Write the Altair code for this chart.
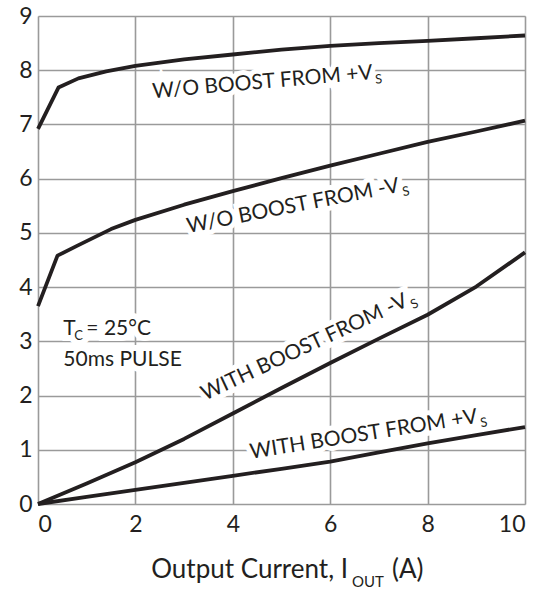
import altair as alt
import pandas as pd

# Dropout voltage vs output current, four operating modes
x_wo_pos = [0, 0.42, 0.83, 1.4, 2, 3, 4, 5, 6, 7, 8, 9, 10]
y_wo_pos = [6.92, 7.68, 7.85, 7.98, 8.08, 8.2, 8.29, 8.38, 8.45, 8.5, 8.54, 8.59, 8.64]

x_wo_neg = [0, 0.4, 0.8, 1.5, 2, 3, 4, 5, 6, 7, 8, 9, 10]
y_wo_neg = [3.65, 4.58, 4.76, 5.07, 5.24, 5.52, 5.77, 6.01, 6.24, 6.46, 6.68, 6.87, 7.07]

x_w_neg = [0, 1, 2, 3, 4, 5, 6, 7, 8, 9, 10]
y_w_neg = [0, 0.38, 0.77, 1.2, 1.67, 2.14, 2.6, 3.05, 3.49, 4.01, 4.64]

x_w_pos = [0, 1, 2, 3, 4, 5, 6, 7, 8, 9, 10]
y_w_pos = [0, 0.13, 0.26, 0.39, 0.52, 0.65, 0.78, 0.95, 1.12, 1.27, 1.42]

x_ticks = [0, 2, 4, 6, 8, 10]
y_ticks = [0, 1, 2, 3, 4, 5, 6, 7, 8, 9]

series_names = ["wo_pos", "wo_neg", "w_neg", "w_pos"]
series_x = [x_wo_pos, x_wo_neg, x_w_neg, x_w_pos]
series_y = [y_wo_pos, y_wo_neg, y_w_neg, y_w_pos]

rows = []
for name, xs_, ys_ in zip(series_names, series_x, series_y):
    for i, (xv, yv) in enumerate(zip(xs_, ys_)):
        rows.append({"series": name, "order": i, "I": xv, "V": yv})
curves_df = pd.DataFrame(rows)

FONT = "Lato"
INK = "#231f20"
LABEL_SIZE = 21

# Curve labels: text ends at the anchor (right-aligned), subscript "S" follows it
label_text = ["W/O BOOST FROM +V", "W/O BOOST FROM -V", "WITH BOOST FROM -V", "WITH BOOST FROM +V"]
label_x = [6.88, 7.44, 7.62, 9.04]
label_y = [7.84, 5.76, 3.66, 1.5]
label_angle = [355, 349, 335, 351]

xs = alt.Scale(domain=[0, 10], nice=False, zero=False)
ys = alt.Scale(domain=[0, 9], nice=False, zero=False)

curves = alt.Chart(curves_df).mark_line(color=INK, strokeWidth=3.8, strokeJoin="round").encode(
    x=alt.X("I:Q", scale=xs,
            axis=alt.Axis(values=x_ticks, title=None, grid=True, ticks=False, domain=False,
                          format="d", labelFont=FONT, labelFontSize=23, labelColor=INK,
                          labelPadding=9, gridColor="#9a9a9a", gridWidth=1.6)),
    y=alt.Y("V:Q", scale=ys,
            axis=alt.Axis(values=y_ticks, title=None, grid=True, ticks=False, domain=False,
                          format="d", labelFont=FONT, labelFontSize=23, labelColor=INK,
                          labelPadding=6, gridColor="#9a9a9a", gridWidth=1.6)),
    detail="series:N",
    order="order:Q",
)

halo_layers = []
text_layers = []
for t, lx, ly, ang in zip(label_text, label_x, label_y, label_angle):
    d = pd.DataFrame({"I": [lx], "V": [ly], "t": [t], "s": ["S"]})
    c = alt.Chart(d)
    enc = dict(x=alt.X("I:Q", scale=xs), y=alt.Y("V:Q", scale=ys))
    halo_layers.append(c.mark_text(align="right", baseline="alphabetic", angle=ang, font=FONT,
                                   fontSize=LABEL_SIZE, fill="white", stroke="white", strokeWidth=10)
                       .encode(text="t:N", **enc))
    text_layers.append(c.mark_text(align="right", baseline="alphabetic", angle=ang, font=FONT,
                                   fontSize=LABEL_SIZE, color=INK)
                       .encode(text="t:N", **enc))
    text_layers.append(c.mark_text(align="left", baseline="alphabetic", angle=ang, font=FONT,
                                   fontSize=13, color=INK, dx=2, dy=5)
                       .encode(text="s:N", **enc))

# Test-condition note
note_df = pd.DataFrame({"I": [0.52], "V": [3.12]})
note_df2 = pd.DataFrame({"I": [0.52], "V": [2.55]})
note_enc = dict(x=alt.X("I:Q", scale=xs), y=alt.Y("V:Q", scale=ys))
note_parts = [
    (note_df, "T", 21, 0, 0),
    (note_df, "C", 13, 11, 5),
    (note_df, "= 25°C", 21, 23, 0),
    (note_df2, "50ms PULSE", 21, 0, 0),
]
for df_, txt, fs, dx, dy in note_parts:
    c = alt.Chart(df_)
    halo_layers.append(c.mark_text(align="left", baseline="alphabetic", font=FONT, fontSize=fs,
                                   fill="white", stroke="white", strokeWidth=12, dx=dx, dy=dy, text=txt)
                       .encode(**note_enc))
    text_layers.append(c.mark_text(align="left", baseline="alphabetic", font=FONT, fontSize=fs,
                                   color=INK, dx=dx, dy=dy, text=txt)
                       .encode(**note_enc))

# X-axis title with subscript
one = pd.DataFrame({"k": [0]})
title_parts = [
    ("Output Current, I", "right", 26, 310, 562),
    ("OUT", "left", 15, 314, 571),
    ("(A)", "left", 26, 354, 562),
]
for txt, al, fs, px, py in title_parts:
    text_layers.append(alt.Chart(one).mark_text(align=al, baseline="alphabetic", font=FONT,
                                                fontSize=fs, color=INK, text=txt)
                       .encode(x=alt.value(px), y=alt.value(py)))

chart = alt.layer(*halo_layers, curves, *text_layers).properties(
    width=487, height=488,
    autosize=alt.AutoSizeParams(type="none"),
    padding={"left": 38, "top": 16, "right": 21, "bottom": 87},
).configure_view(stroke="#1a1a1a", strokeWidth=3).configure(background="white")

chart.save("out.html", embed_options={"renderer": "svg", "actions": False})
